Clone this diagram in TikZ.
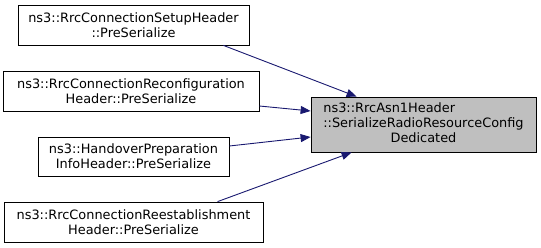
\documentclass[tikz,border=0pt]{standalone}
\usepackage{fontspec}
\setmainfont{DejaVu Sans}
\usetikzlibrary{arrows.meta}
\definecolor{edgeblue}{HTML}{191970}
\definecolor{curfill}{HTML}{BFBFBF}
\begin{document}
\begin{tikzpicture}[x=1pt,y=-1pt,
  fn/.style={draw=black, line width=0.8pt, fill=white, inner sep=0pt, align=center,
    font=\fontsize{12.9}{15}\selectfont},
  cur/.style={fn, fill=curfill},
  call/.style={draw=edgeblue, line width=0.9pt, -{Triangle[length=10pt,width=8pt]}}]
\useasboundingbox (0,0) rectangle (541,248);

% callers
\node[fn, minimum width=231, minimum height=40] (setup) at (133.5,25)
  {ns3::RrcConnectionSetupHeader\\::PreSerialize};
\node[fn, minimum width=256, minimum height=40] (reconf) at (131,91)
  {ns3::RrcConnectionReconfiguration\\Header::PreSerialize};
\node[fn, minimum width=191, minimum height=39] (handover) at (133.5,156.5)
  {ns3::HandoverPreparation\\InfoHeader::PreSerialize};
\node[fn, minimum width=259, minimum height=40] (reest) at (133.5,222)
  {ns3::RrcConnectionReestablishment\\Header::PreSerialize};

% callee
\node[cur, minimum width=225, minimum height=55] (main) at (423.5,124.5)
  {\begin{tabular}{@{}l@{}}ns3::RrcAsn1Header\\::SerializeRadioResourceConfig\\
   \multicolumn{1}{@{}c@{}}{Dedicated}\end{tabular}};

% calls
\draw[call] ([xshift=-26pt]setup.south east) -- ([xshift=46pt]main.north west);
\draw[call] ([yshift=-15pt]reconf.east) -- ([yshift=13.5pt]main.west);
\draw[call] ([yshift=10.5pt]handover.east) -- ([yshift=-12.5pt]main.west);
\draw[call] ([xshift=214pt]reest.north west) -- ([xshift=41pt]main.south west);
\end{tikzpicture}
\end{document}
